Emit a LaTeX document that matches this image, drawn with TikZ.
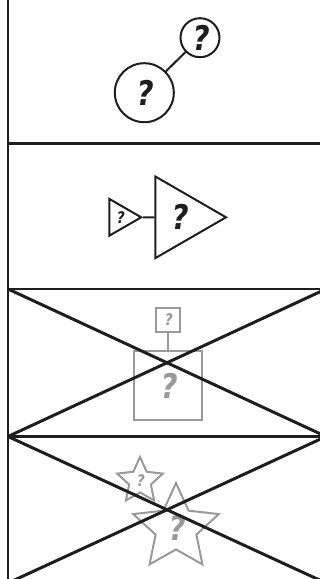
\documentclass[tikz,border=0pt]{standalone}
\usepackage{fontspec}
\setmainfont{DejaVu Sans}
\newfontfamily\qfont{DejaVu Sans}[FakeSlant=0.15,FakeStretch=0.85,BoldFeatures={FakeSlant=0.15,FakeStretch=0.85}]
\usetikzlibrary{shapes.geometric}
\definecolor{ink}{HTML}{1E1E1E}
\definecolor{faded}{HTML}{9A9A9A}
\tikzset{
  frameline/.style={draw=ink, line width=2.2pt},
  crossline/.style={draw=ink, line width=3pt},
  shapeblack/.style={draw=ink, line width=2pt, inner sep=0pt, text=ink},
  shapegray/.style={draw=faded, line width=2pt, inner sep=0pt, text=faded},
  qbig/.style={font=\fontsize{34}{34}\selectfont\qfont\bfseries},
  qsmall/.style={font=\fontsize{16}{16}\selectfont\qfont\bfseries},
  link/.style={draw=ink, line width=2pt},
  linkgray/.style={draw=faded, line width=2pt}
}
\begin{document}
\begin{tikzpicture}[x=1pt,y=-1pt]
\useasboundingbox (0,0) rectangle (320,579);
\clip (0,0) rectangle (320,579);
\fill[white] (0,0) rectangle (320,579);

% frame coordinates
\coordinate (lt) at (8,-5);
\coordinate (lb) at (8,590);
\coordinate (a1) at (8,143.5);   \coordinate (b1) at (330,143.5);
\coordinate (a2) at (8,289);     \coordinate (b2) at (326,289);
\coordinate (a3) at (8,436.5);   \coordinate (b3) at (326,436.5);
\coordinate (a4) at (8,583);     \coordinate (b4) at (326,583);

\draw[frameline] (lt) -- (lb);
\draw[frameline] (a1) -- (b1);
\draw[frameline] (a2) -- (b2);
\draw[frameline] (a3) -- (b3);

% panel 1: circles
\node[shapeblack, circle, minimum size=39pt, qbig] (c1) at (200,37.7) {?};
\node[shapeblack, circle, minimum size=59pt, qbig] (c2) at (144.3,92.7) {?};
\draw[link] (c2) -- (c1);

% panel 2: triangles
\node[shapeblack, regular polygon, regular polygon sides=3, shape border rotate=-90,
      minimum size=42.4pt, qsmall] (t1) at (120,217.3) {?};
\node[shapeblack, regular polygon, regular polygon sides=3, shape border rotate=-90,
      minimum size=94.3pt, qbig] (t2) at (178.9,217.3) {?};
\draw[link] (t1.east) -- (t2.west);

% panel 3: squares
\node[shapegray, rectangle, minimum width=24pt, minimum height=24pt, qsmall] (s1) at (168,319.7) {?};
\node[shapegray, rectangle, minimum width=68pt, minimum height=69pt, qbig] (s2) at (168,385.5) {?};
\draw[linkgray] (s1.south) -- (s2.north);

% panel 4: stars
\node[shapegray, star, star points=5, star point ratio=2.1, minimum size=48pt, qsmall] (st1) at (140,481) {?};
\node[shapegray, star, star points=5, star point ratio=2.1, minimum size=90pt, qbig] (st2) at (176,528) {?};

% crosses
\draw[crossline] (a2) -- (b3);
\draw[crossline] (a3) -- (b2);
\draw[crossline] (a3) -- (b4);
\draw[crossline] (a4) -- (b3);
\end{tikzpicture}
\end{document}
